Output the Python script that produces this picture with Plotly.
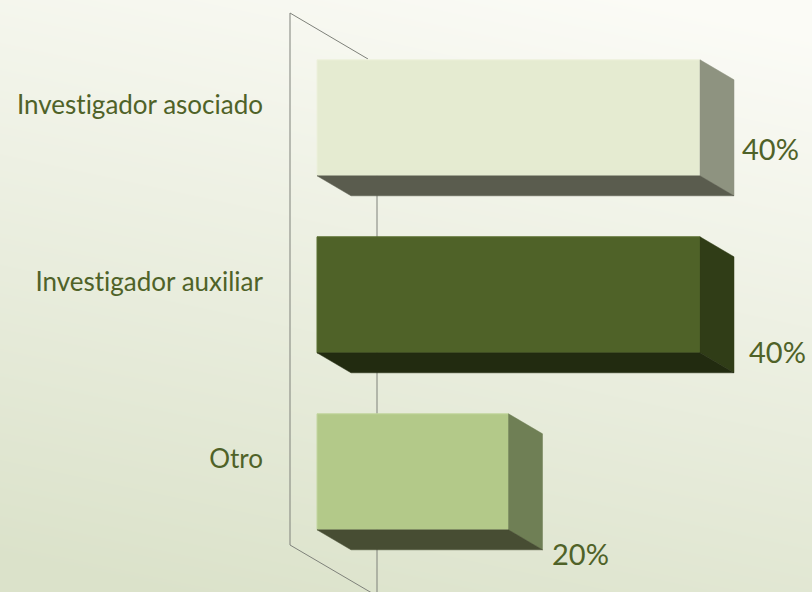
import base64, zlib, struct
import numpy as np
import plotly.graph_objects as go

categories = ["Otro", "Investigador auxiliar", "Investigador asociado"]
values = [20, 40, 40]
value_labels = ["20%", "40%", "40%"]
front_colors = ["#B3C989", "#4F6228", "#E5EBD1"]
side_colors = ["#6F7F55", "#303D17", "#8E9380"]
under_colors = ["#474D33", "#222B10", "#5A5C4E"]
edge_colors = ["#C3D69F", "#5B7030", "#EDF1DC"]
label_dx = [72, 77, 70]
label_dy = [-82, -57, -31]

W, H = 812, 592
PX_PER_PCT = 9.575
PX_PER_ROW = 177.0
X0_PX = 317.0
ROW0_PX = 471.8
x_range = [-X0_PX / PX_PER_PCT, (W - X0_PX) / PX_PER_PCT]
y_range = [(ROW0_PX - H) / PX_PER_ROW, ROW0_PX / PX_PER_ROW]
DX = 34 / PX_PER_PCT
DY = 20 / PX_PER_ROW
BAR_W = 116 / PX_PER_ROW
rows = list(range(len(categories)))


def png_uri():
    yy, xx = np.mgrid[0:H, 0:W]
    t = np.clip((yy / H) * 0.85 + (1 - xx / W) * 0.25 - 0.05, 0, 1)[..., None]
    a = np.array([0xFB, 0xFB, 0xF6], float)
    b = np.array([0xDB, 0xE2, 0xCA], float)
    img = (a + (b - a) * t).round().astype(np.uint8)
    raw = b"".join(b"\x00" + img[i].tobytes() for i in range(H))

    def chunk(t_, d):
        return struct.pack(">I", len(d)) + t_ + d + struct.pack(">I", zlib.crc32(t_ + d))

    data = (b"\x89PNG\r\n\x1a\n" + chunk(b"IHDR", struct.pack(">IIBBBBB", W, H, 8, 2, 0, 0, 0))
            + chunk(b"IDAT", zlib.compress(raw)) + chunk(b"IEND", b""))
    return "data:image/png;base64," + base64.b64encode(data).decode()


fig = go.Figure()
fig.add_trace(go.Bar(
    y=rows, x=values, orientation="h", width=BAR_W,
    marker=dict(color=front_colors, line=dict(color=edge_colors, width=1)),
    hoverinfo="skip", showlegend=False,
))
for r, v, sc, uc in zip(rows, values, side_colors, under_colors):
    top, bot = r + BAR_W / 2, r - BAR_W / 2
    fig.add_trace(go.Scatter(
        x=[v, v + DX, v + DX, v, v], y=[top, top - DY, bot - DY, bot, top],
        mode="lines", fill="toself", fillcolor=sc, line=dict(color=sc, width=0.5),
        hoverinfo="skip", showlegend=False))
    fig.add_trace(go.Scatter(
        x=[0, DX, v + DX, v, 0], y=[bot, bot - DY, bot - DY, bot, bot],
        mode="lines", fill="toself", fillcolor=uc, line=dict(color=uc, width=0.5),
        hoverinfo="skip", showlegend=False))

annotations = [
    dict(x=v, y=r, xref="x", yref="y", text=t, showarrow=False, xshift=dx, yshift=dy,
         xanchor="center", yanchor="middle", font=dict(family="Lato", size=29, color="#4F6228"))
    for r, v, t, dx, dy in zip(rows, values, value_labels, label_dx, label_dy)
]

wall = dict(type="line", xref="paper", yref="paper", layer="below",
            line=dict(color="#7E817A", width=1))


def seg(x0, y0, x1, y1):
    return dict(wall, x0=x0 / W, x1=x1 / W, y0=1 - y0 / H, y1=1 - y1 / H)


shapes = [seg(290, 13, 368, 59), seg(290, 13, 290, 545), seg(290, 545, 377, 596), seg(377, 60, 377, 592)]

fig.update_layout(
    width=W, height=H, margin=dict(l=0, r=0, t=0, b=0), autosize=False,
    paper_bgcolor="#EEF1E4", plot_bgcolor="rgba(0,0,0,0)", showlegend=False,
    xaxis=dict(range=x_range, visible=False, fixedrange=True),
    yaxis=dict(range=y_range, anchor="free", position=263 / W, tickmode="array",
               tickvals=[r + 13 / PX_PER_ROW for r in rows], ticktext=categories,
               showgrid=False, zeroline=False, showline=False, ticks="", fixedrange=True,
               tickfont=dict(family="Lato", size=26, color="#4F6228")),
    annotations=annotations, shapes=shapes,
    images=[dict(source=png_uri(), xref="paper", yref="paper", x=0, y=1, sizex=1, sizey=1,
                 sizing="stretch", layer="below", xanchor="left", yanchor="top")],
)
fig.write_html("out.html", config=dict(displayModeBar=False),
               post_script="document.body.style.margin='0';document.body.style.overflow='hidden';"
                           "document.querySelectorAll('svg text').forEach(function(t){"
                           "t.style.fontVariantLigatures='none';t.style.fontFeatureSettings='\"liga\" 0';});")
